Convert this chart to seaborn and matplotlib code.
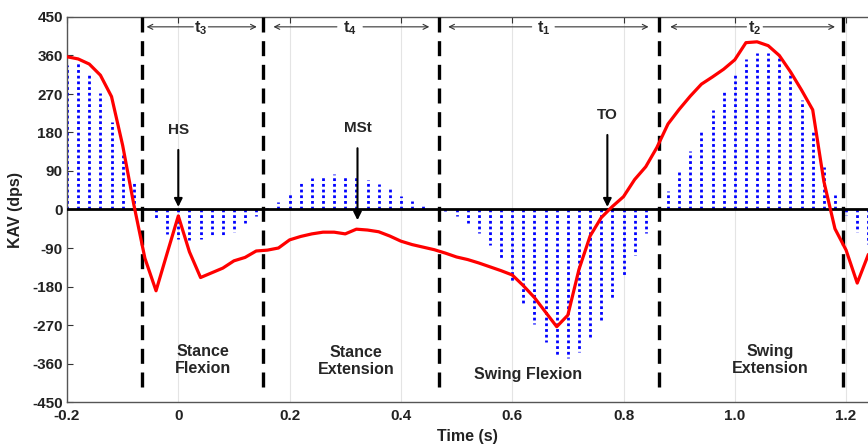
import matplotlib
matplotlib.use("Agg")
import matplotlib.pyplot as plt
import seaborn as sns
import pandas as pd

# ---------------- data ----------------
time_s = [-0.20, -0.18, -0.16, -0.14, -0.12, -0.10, -0.08, -0.06, -0.04, -0.02,
          0.00, 0.02, 0.04, 0.06, 0.08, 0.10, 0.12, 0.14, 0.16, 0.18,
          0.20, 0.22, 0.24, 0.26, 0.28, 0.30, 0.32, 0.34, 0.36, 0.38,
          0.40, 0.42, 0.44, 0.46, 0.48, 0.50, 0.52, 0.54, 0.56, 0.58,
          0.60, 0.62, 0.64, 0.66, 0.68, 0.70, 0.72, 0.74, 0.76, 0.78,
          0.80, 0.82, 0.84, 0.86, 0.88, 0.90, 0.92, 0.94, 0.96, 0.98,
          1.00, 1.02, 1.04, 1.06, 1.08, 1.10, 1.12, 1.14, 1.16, 1.18,
          1.20, 1.22, 1.24]

kav_measured = [357, 352, 340, 314, 264, 150, 12, -114, -190, -102,
                -15, -99, -159, -148, -137, -120, -112, -97, -95, -90,
                -71, -63, -57, -53, -53, -57, -46, -48, -52, -62,
                -74, -82, -88, -94, -102, -111, -117, -125, -134, -143,
                -153, -178, -206, -240, -274, -247, -140, -62, -19, 7,
                30, 70, 100, 145, 200, 234, 265, 293, 310, 328,
                350, 390, 392, 383, 360, 322, 279, 233, 66, -45,
                -95, -172, -105]

kav_reference = [338, 342, 314, 273, 205, 127, 61, 3, -25, -58,
                 -70, -72, -70, -64, -60, -52, -32, -15, 3, 18,
                 42, 61, 73, 75, 83, 80, 76, 69, 60, 47,
                 32, 20, 8, 0, -3, -15, -32, -54, -83, -118,
                 -166, -219, -268, -309, -340, -346, -334, -299, -260, -208,
                 -153, -106, -54, 3, 43, 88, 137, 180, 233, 274,
                 314, 351, 367, 367, 353, 314, 256, 180, 100, 34,
                 -13, -52, -80]

phase_bounds = [-0.066, 0.153, 0.469, 0.864, 1.194]

interval_labels = [r"$\mathbf{t_3}$", r"$\mathbf{t_4}$", r"$\mathbf{t_1}$", r"$\mathbf{t_2}$"]
interval_label_x = [0.040, 0.309, 0.656, 1.036]
interval_left = [-0.057, 0.171, 0.485, 0.884]
interval_left_txt = [0.027, 0.285, 0.635, 1.021]
interval_right_txt = [0.054, 0.332, 0.677, 1.051]
interval_right = [0.141, 0.451, 0.845, 1.180]

event_labels = ["HS", "MSt", "TO"]
event_x = [0.0, 0.322, 0.771]
event_text_y = [186, 190, 221]
event_tip_y = [6, -25, 6]

phase_names = ["Stance\nFlexion", "Stance\nExtension", "Swing Flexion", "Swing\nExtension"]
phase_name_x = [0.045, 0.319, 0.628, 1.063]
phase_name_y = [-352, -354, -385, -352]

xtick_vals = [-0.2, 0.0, 0.2, 0.4, 0.6, 0.8, 1.0, 1.2]
xtick_labels = ["-0.2", "0", "0.2", "0.4", "0.6", "0.8", "1.0", "1.2"]
ytick_vals = [-450, -360, -270, -180, -90, 0, 90, 180, 270, 360, 450]

df = pd.DataFrame({"Time": time_s, "KAV": kav_measured, "Ref": kav_reference})

# ---------------- style ----------------
sns.set_style("white")
plt.rcParams["font.family"] = ["Liberation Sans", "DejaVu Sans"]
plt.rcParams["font.weight"] = "bold"
plt.rcParams["axes.labelweight"] = "bold"
plt.rcParams["mathtext.fontset"] = "custom"
plt.rcParams["mathtext.bf"] = "Liberation Sans:bold"
plt.rcParams["mathtext.rm"] = "Liberation Sans"
plt.rcParams["mathtext.it"] = "Liberation Sans:italic"

fig = plt.figure(figsize=(8.68, 4.48), dpi=100)
ax = fig.add_axes([67 / 868, 46 / 448, 801 / 868, 385 / 448])

xmin, xmax = -0.2, -0.2 + 801 / 556.5
ax.set_xlim(xmin, xmax)
ax.set_ylim(-450, 450)

ax.grid(axis="x", color="#e4e4e4", lw=0.8)
ax.set_axisbelow(True)

# blue dotted stems
ax.vlines(df["Time"], 0, df["Ref"], colors="#0000ff", lw=2.0,
          linestyles=[(0, (1.0, 1.05))], zorder=2)

# zero line
ax.axhline(0, color="black", lw=2.0, zorder=3)

# red measured curve
sns.lineplot(data=df, x="Time", y="KAV", ax=ax, color="#ff0000", lw=2.3,
             zorder=5, estimator=None, sort=False)

# phase boundaries
for xb in phase_bounds:
    ax.plot([xb, xb], [450, -430], color="black", lw=2.4,
            linestyle=(0, (4.5, 2.6)), zorder=4)

# interval arrows
ay = 427
for lab, lx, l0, l1, r0, r1 in zip(interval_labels, interval_label_x, interval_left,
                                   interval_left_txt, interval_right_txt, interval_right):
    ax.text(lx, 425, lab, ha="center", va="center", fontsize=11.5, zorder=6)
    ax.annotate("", xy=(l0, ay), xytext=(l1, ay),
                arrowprops=dict(arrowstyle="->", lw=0.8, color="#333333",
                                shrinkA=0, shrinkB=0, mutation_scale=9))
    ax.annotate("", xy=(r1, ay), xytext=(r0, ay),
                arrowprops=dict(arrowstyle="->", lw=0.8, color="#333333",
                                shrinkA=0, shrinkB=0, mutation_scale=9))

# event annotations
for lab, ex, ty, tip in zip(event_labels, event_x, event_text_y, event_tip_y):
    ax.annotate(lab, xy=(ex, tip), xytext=(ex, ty), ha="center", va="center",
                fontsize=11, zorder=7,
                arrowprops=dict(arrowstyle="-|>", lw=1.5, color="black",
                                shrinkA=7, shrinkB=0, mutation_scale=12))

# phase names
for nm, nx, ny in zip(phase_names, phase_name_x, phase_name_y):
    ax.text(nx, ny, nm, ha="center", va="center", fontsize=11.5,
            linespacing=1.1, zorder=6)

ax.set_xticks(xtick_vals)
ax.set_xticklabels(xtick_labels)
ax.set_yticks(ytick_vals)
ax.set_yticklabels([str(v) for v in ytick_vals])
ax.tick_params(axis="both", direction="in", length=4, width=0.8,
               labelsize=11, colors="#333333", labelcolor="#222222")
ax.tick_params(axis="x", top=True, pad=5)
ax.tick_params(axis="y", left=True, right=False, pad=3)

for side in ["left", "top", "bottom"]:
    ax.spines[side].set_color("#555555")
    ax.spines[side].set_linewidth(1.0)
ax.spines["right"].set_visible(False)

ax.set_xlabel("Time (s)", fontsize=11.5, fontweight="bold", color="#222222")
ax.set_ylabel("KAV (dps)", fontsize=11.5, fontweight="bold", color="#222222")
ax.xaxis.set_label_coords(0.5, -0.07)
ax.yaxis.set_label_coords(-0.055, 0.5)

fig.savefig("out.png", dpi=100)
